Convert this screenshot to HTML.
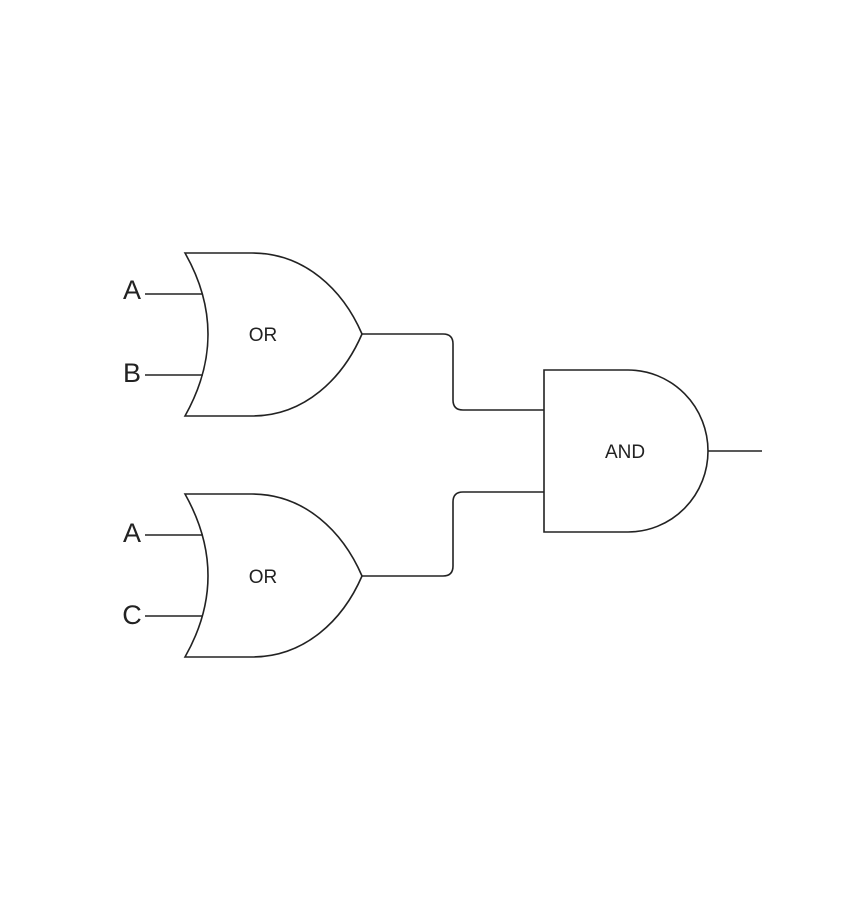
<!DOCTYPE html>
<html><head><meta charset="utf-8"><style>
html,body{margin:0;padding:0;background:#fff;}
svg{display:block;}
</style></head><body>
<svg width="850" height="900" viewBox="0 0 850 900" xmlns="http://www.w3.org/2000/svg">
<g fill="none" stroke="#222" stroke-width="1.6">
  <!-- top OR -->
  <path d="M185,253 L252,253 C305,253 343,290 362,334 C343,378 305,416 252,416 L185,416 Q231,334 185,253 Z" fill="#fff"/>
  <line x1="145" y1="294" x2="203" y2="294"/>
  <line x1="145" y1="375" x2="203" y2="375"/>
  <!-- bottom OR -->
  <path d="M185,494 L252,494 C305,494 343,532 362,576 C343,620 305,657 252,657 L185,657 Q231,576 185,494 Z" fill="#fff"/>
  <line x1="145" y1="535" x2="203" y2="535"/>
  <line x1="145" y1="616" x2="203" y2="616"/>
  <!-- AND -->
  <path d="M544,370 L628,370 A80,81 0 0 1 628,532 L544,532 Z" fill="#fff"/>
  <line x1="708" y1="451" x2="762" y2="451"/>
  <!-- connectors -->
  <path d="M362,334 L443,334 Q453,334 453,344 L453,400 Q453,410 463,410 L544,410"/>
  <path d="M362,576 L443,576 Q453,576 453,566 L453,502 Q453,492 463,492 L544,492"/>
</g>
<g font-family="'Liberation Sans', sans-serif" fill="#222">
  <text x="263" y="341" font-size="19" text-anchor="middle">OR</text>
  <text x="263" y="583" font-size="19" text-anchor="middle">OR</text>
  <text x="625" y="458" font-size="19" text-anchor="middle">AND</text>
  <text x="132" y="299" font-size="27" text-anchor="middle">A</text>
  <text x="132" y="382" font-size="27" text-anchor="middle">B</text>
  <text x="132" y="542" font-size="27" text-anchor="middle">A</text>
  <text x="132" y="624" font-size="27" text-anchor="middle">C</text>
</g>
</svg>
</body></html>
